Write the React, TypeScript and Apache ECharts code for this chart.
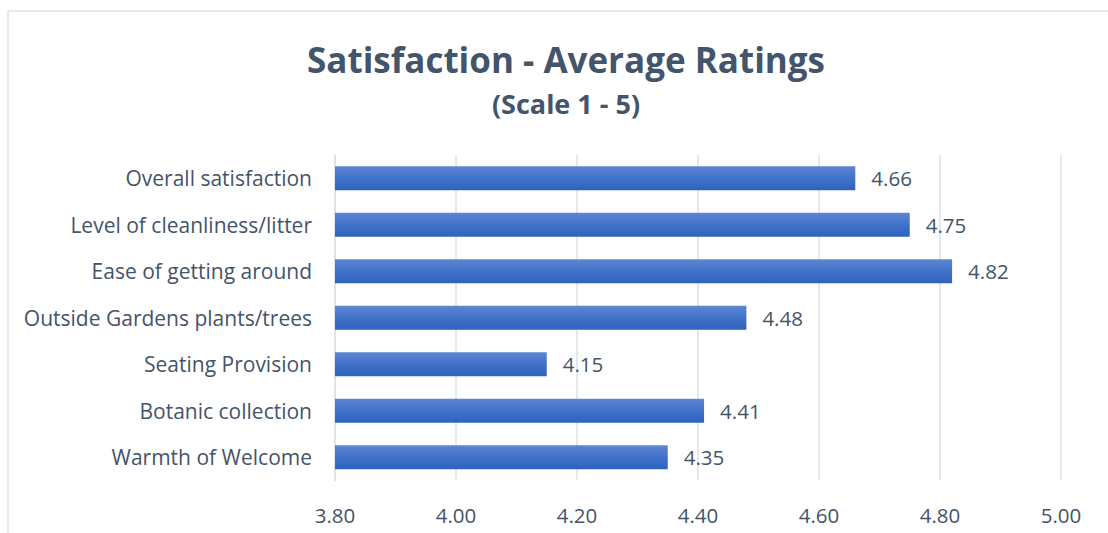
import React, { useEffect, useRef } from "react";
import * as echarts from "echarts";

const categories = [
  "Warmth of Welcome",
  "Botanic collection",
  "Seating Provision",
  "Outside Gardens plants/trees",
  "Ease of getting around",
  "Level of cleanliness/litter",
  "Overall satisfaction",
];
const ratings = [4.35, 4.41, 4.15, 4.48, 4.82, 4.75, 4.66];
const axisMin = 3.8;
const axisMax = 5.0;
const axisStep = 0.2;

const FONT = "'Open Sans', Lato, sans-serif";
const TEXT = "#44546A";

export default function App() {
  const ref = useRef<HTMLDivElement>(null);
  useEffect(() => {
    if (!ref.current) return;
    const chart = echarts.init(ref.current, undefined, { renderer: "svg" });
    chart.setOption({
      animation: false,
      backgroundColor: "#ffffff",
      title: {
        text: "Satisfaction - Average Ratings",
        subtext: "(Scale 1 - 5)",
        left: 561,
        top: 37,
        textAlign: "center",
        itemGap: 13,
        textStyle: { fontFamily: FONT, fontSize: 35, fontWeight: "bold", color: TEXT },
        subtextStyle: { fontFamily: FONT, fontSize: 27, fontWeight: "bold", color: TEXT },
      },
      graphic: [
        {
          type: "rect",
          shape: { x: 8, y: 11, width: 1300, height: 700 },
          style: { fill: "none", stroke: "#DCE0E7", lineWidth: 1.5 },
          silent: true,
        },
      ],
      grid: { left: 335, right: 47, top: 155, bottom: 52.5, containLabel: false },
      xAxis: {
        type: "value",
        min: axisMin,
        max: axisMax,
        interval: axisStep,
        axisLine: { show: false },
        axisTick: { show: false },
        splitLine: { show: true, lineStyle: { color: "#DDE1E8", width: 1.5 } },
        axisLabel: {
          margin: 24,
          fontFamily: FONT,
          fontSize: 20.5,
          color: TEXT,
          formatter: (v: number) => v.toFixed(2),
        },
      },
      yAxis: {
        type: "category",
        data: categories,
        axisLine: { show: true, lineStyle: { color: "#DDE1E8", width: 1.5 } },
        axisTick: { show: false },
        axisLabel: { margin: 23, fontFamily: FONT, fontSize: 21, color: TEXT },
      },
      series: [
        {
          type: "bar",
          data: ratings,
          barCategoryGap: "48%",
          itemStyle: {
            color: new echarts.graphic.LinearGradient(0, 0, 0, 1, [
              { offset: 0, color: "#5E86D2" },
              { offset: 0.5, color: "#4172CA" },
              { offset: 1, color: "#2E62BD" },
            ]),
          },
          label: {
            show: true,
            position: "right",
            distance: 16,
            fontFamily: FONT,
            fontSize: 20.5,
            color: TEXT,
            formatter: (p: any) => Number(p.value).toFixed(2),
          },
        },
      ],
    });
    return () => chart.dispose();
  }, []);
  return (
    <div
      ref={ref}
      style={{ position: "fixed", left: 0, top: 0, width: 1108, height: 533 }}
    />
  );
}
